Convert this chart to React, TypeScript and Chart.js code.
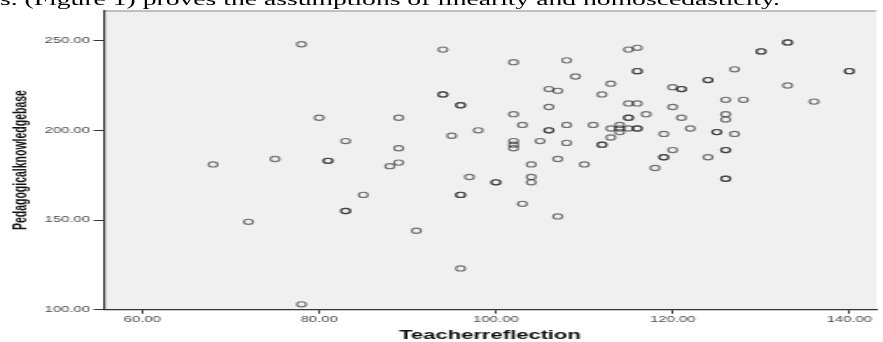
import React, { useEffect, useRef } from "react";
import { Chart, registerables } from "chart.js";

Chart.register(...registerables);

// Teacher reflection (x) and pedagogical knowledge base (y) scores; repeated pairs are overlapping cases
const teacherReflection = [
  68, 72, 75, 78, 78, 80, 81, 81, 83, 83, 83, 85, 88, 89, 89, 89, 91, 94, 94, 94,
  95, 96, 96, 96, 96, 96, 97, 98, 100, 100, 102, 102, 102, 102, 102, 103, 103, 104, 104, 104,
  105, 106, 106, 106, 106, 107, 107, 107, 108, 108, 108, 109, 110, 111, 112, 112, 112, 113, 113, 113,
  114, 114, 114, 115, 115, 115, 115, 115, 116, 116, 116, 116, 116, 116, 117, 118, 119, 119, 119, 120,
  120, 120, 121, 121, 121, 122, 124, 124, 124, 125, 125, 126, 126, 126, 126, 126, 126, 126, 127, 127,
  128, 130, 130, 133, 133, 133, 136, 140, 140,
];
const pedagogicalKnowledge = [
  181, 149, 184, 248, 103, 207, 183, 183, 194, 155, 155, 164, 180, 182, 190, 207, 144, 245, 220, 220,
  197, 214, 214, 164, 164, 123, 174, 200, 171, 171, 238, 209, 194, 192, 190, 203, 159, 181, 174, 171,
  194, 223, 213, 200, 200, 222, 184, 152, 239, 203, 193, 230, 181, 203, 220, 192, 192, 226, 201, 196,
  203, 201, 199, 245, 215, 207, 207, 201, 246, 233, 233, 215, 201, 201, 209, 179, 198, 185, 185, 224,
  213, 189, 223, 223, 207, 201, 228, 228, 185, 199, 199, 217, 209, 206, 189, 189, 173, 173, 234, 198,
  217, 244, 244, 249, 249, 225, 216, 233, 233,
];
const xTickValues = [60, 80, 100, 120, 140];
const yTickValues = [100, 150, 200, 250];
const xTitle = "Teacherreflection";
const yTitle = "Pedagogicalknowledgebase";
const captionText = "s. (Figure 1) proves the assumptions of linearity and homoscedasticity.";

const INNER_W = 505;
const H = 342;
const STRETCH = 883 / INNER_W;

const plotBg = {
  id: "plotBg",
  beforeDraw(chart: any) {
    const { ctx, chartArea: a } = chart;
    ctx.save();
    ctx.fillStyle = "#f0f0f0";
    ctx.fillRect(a.left, a.top, a.right - a.left, a.bottom - a.top);
    ctx.strokeStyle = "#8c8c8c";
    ctx.lineWidth = 1;
    ctx.beginPath();
    ctx.moveTo(a.left, a.top + 0.5);
    ctx.lineTo(a.right, a.top + 0.5);
    ctx.stroke();
    ctx.restore();
  },
};

export default function App() {
  const ref = useRef<HTMLCanvasElement | null>(null);

  useEffect(() => {
    if (!ref.current) return;
    const data = teacherReflection.map((x, i) => ({ x, y: pedagogicalKnowledge[i] }));
    const chart = new Chart(ref.current, {
      type: "scatter",
      data: {
        datasets: [
          {
            data,
            pointStyle: "circle",
            pointRadius: 2.6,
            pointHoverRadius: 2.6,
            pointBorderWidth: 1.15,
            pointBorderColor: "rgba(35,35,35,0.62)",
            pointBackgroundColor: "rgba(0,0,0,0)",
          },
        ],
      },
      options: {
        animation: false,
        responsive: false,
        devicePixelRatio: 1,
        layout: { padding: { top: 10.5, right: 0, bottom: 0, left: 0 } },
        plugins: { legend: { display: false }, tooltip: { enabled: false } },
        events: [],
        scales: {
          x: {
            type: "linear",
            min: 55.6,
            max: 143.06,
            afterBuildTicks: (s: any) => {
              s.ticks = xTickValues.map((v) => ({ value: v }));
            },
            afterFit: (s: any) => {
              s.height = 32.3;
              s.paddingLeft = 0;
              s.paddingRight = 0;
            },
            ticks: {
              includeBounds: false,
              autoSkip: false,
              maxRotation: 0,
              padding: 1,
              color: "#4a4a4a",
              font: { family: "'Liberation Sans', Arial, sans-serif", size: 8.5 },
              callback: (v: any) => Number(v).toFixed(2),
            },
            grid: {
              drawOnChartArea: false,
              drawTicks: true,
              tickLength: 4,
              tickColor: "#333",
              tickWidth: 1,
            },
            border: { display: true, color: "#333", width: 1.2 },
            title: {
              display: true,
              text: xTitle,
              color: "#111",
              font: { family: "'Liberation Sans', Arial, sans-serif", size: 12.6, weight: "bold", lineHeight: 1 },
              padding: { top: 0, bottom: 0 },
            },
          },
          y: {
            type: "linear",
            min: 100,
            max: 266.8,
            afterBuildTicks: (s: any) => {
              s.ticks = yTickValues.map((v) => ({ value: v }));
            },
            afterFit: (s: any) => {
              s.width = 59.2;
            },
            ticks: {
              includeBounds: false,
              autoSkip: false,
              padding: 2,
              color: "#4a4a4a",
              font: { family: "'Liberation Sans', Arial, sans-serif", size: 8.5 },
              callback: (v: any) => Number(v).toFixed(2),
            },
            grid: {
              drawOnChartArea: false,
              drawTicks: true,
              tickLength: 5.7,
              tickColor: "#333",
              tickWidth: 1,
            },
            border: { display: true, color: "#333", width: 1.2 },
            title: {
              display: true,
              text: yTitle,
              color: "#111",
              font: { family: "'Liberation Sans', Arial, sans-serif", size: 10.5, weight: "bold", lineHeight: 1.2 },
              padding: { top: 5.7, bottom: 0 },
            },
          },
        },
      },
      plugins: [plotBg],
    });
    return () => chart.destroy();
  }, []);

  return (
    <div
      style={{
        position: "absolute",
        left: 0,
        top: 0,
        width: 883,
        height: H,
        overflow: "hidden",
        background: "#fff",
      }}
    >
      <div
        style={{
          position: "absolute",
          left: 0,
          top: 0,
          width: INNER_W,
          height: H,
          transform: `scaleX(${STRETCH})`,
          transformOrigin: "0 0",
        }}
      >
        <div
          style={{
            position: "absolute",
            left: 0,
            top: -7.6,
            font: "15.8px 'Liberation Serif', 'Times New Roman', serif",
            lineHeight: "15.8px",
            whiteSpace: "nowrap",
            color: "#000",
          }}
        >
          {captionText}
        </div>
        <canvas
          ref={ref}
          width={INNER_W}
          height={H}
          style={{ position: "absolute", left: 0, top: 0, width: INNER_W, height: H, display: "block" }}
        />
      </div>
    </div>
  );
}
